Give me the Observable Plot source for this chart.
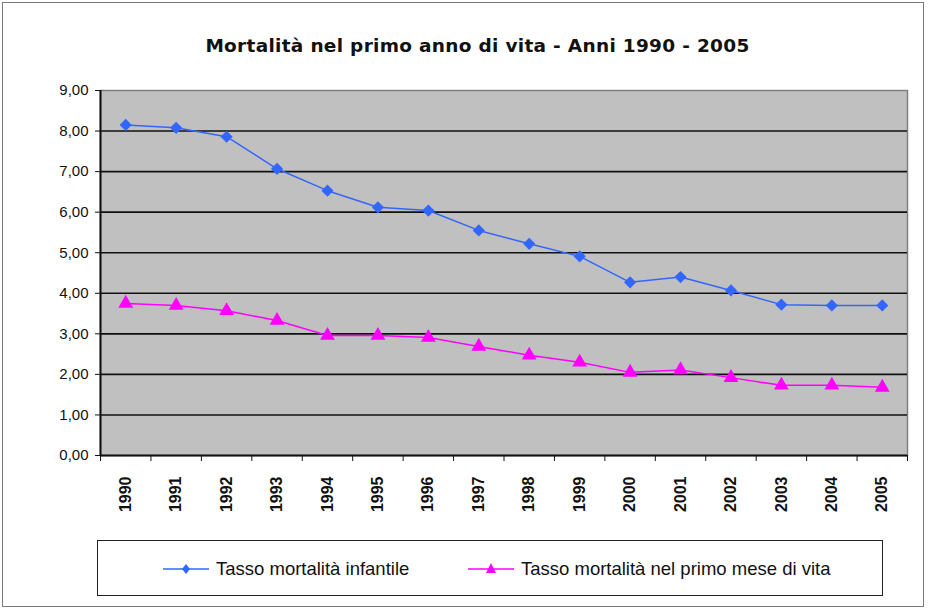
<!DOCTYPE html>
<html><head><meta charset="utf-8">
<script src="https://cdn.jsdelivr.net/npm/d3@7"></script>
<script src="https://cdn.jsdelivr.net/npm/@observablehq/plot@0.6"></script>
<style>
body{margin:0;background:#fff;font-family:"Liberation Sans",Arial,sans-serif;}
#wrap{position:relative;width:929px;height:610px;overflow:hidden;background:#fff}
#frame{position:absolute;left:2px;top:2px;width:922px;height:605px;border:1px solid #7a7a7a;box-sizing:border-box}
#title{position:absolute;left:0;width:955px;top:35px;text-align:center;font-family:"DejaVu Sans",sans-serif;font-weight:bold;font-size:18.5px;letter-spacing:0.3px;color:#111}
#chart{position:absolute;left:0;top:0}
#legend{position:absolute;left:97px;top:540px;width:786px;height:56px;border:1px solid #222;box-sizing:border-box;background:#fff}
.item{position:absolute;top:17px;height:22px;display:flex;align-items:center;font-family:"Liberation Sans",Arial,sans-serif;font-size:18.5px;color:#111;white-space:nowrap}
.item svg{margin-right:7px}
</style>
</head><body>
<div id="wrap">
  <div id="frame"></div>
  <div id="chart"></div>
  <div id="title">Mortalità nel primo anno di vita - Anni 1990 - 2005</div>
  <div id="legend"></div>
</div>
<script>
const years = [1990,1991,1992,1993,1994,1995,1996,1997,1998,1999,2000,2001,2002,2003,2004,2005];
const infantile = [8.15,8.08,7.86,7.07,6.53,6.12,6.04,5.55,5.22,4.91,4.27,4.40,4.07,3.72,3.70,3.70];
const primoMese = [3.75,3.70,3.57,3.33,2.96,2.96,2.91,2.69,2.47,2.30,2.05,2.11,1.92,1.73,1.73,1.68];
const yTicks = [0,1,2,3,4,5,6,7,8,9];
const seriesNames = ["Tasso mortalità infantile","Tasso mortalità nel primo mese di vita"];
const seriesColors = ["#3366ff","#ff00ff"];
const seriesSymbols = ["diamond2","triangle"];

const rowsA = years.map((y,i)=>({year:y, v:infantile[i]}));
const rowsB = years.map((y,i)=>({year:y, v:primoMese[i]}));
const bounds = years.map(y=>y-0.5).concat([years[years.length-1]+0.5]);
const fmt = d => d.toFixed(2).replace(".", ",");

const chart = Plot.plot({
  width: 929, height: 610,
  marginLeft: 100, marginRight: 22, marginTop: 90, marginBottom: 155,
  style: {background: "none", fontFamily: "Liberation Sans, Arial, sans-serif", color: "#111"},
  x: {type: "linear", domain: [bounds[0], bounds[bounds.length-1]]},
  y: {domain: [0, 9]},
  marks: [
    Plot.frame({fill: "#c0c0c0", stroke: "#808080", strokeWidth: 1.5}),
    Plot.gridY(yTicks.slice(1, -1), {stroke: "#111", strokeOpacity: 1, strokeWidth: 1.6}),
    Plot.axisY({ticks: yTicks, tickFormat: fmt, tickSize: 5, tickPadding: 7, fontSize: 15, label: null, stroke: "#111"}),
    Plot.axisX({ticks: years, tickSize: 0, tickRotate: -90, tickPadding: 21, fontWeight: "bold", fontSize: 16, label: null, tickFormat: d => String(d)}),
    Plot.axisX({ticks: bounds, tickSize: 6, tickFormat: () => "", label: null, stroke: "#111"}),
    Plot.ruleY([0], {stroke: "#111", strokeWidth: 2}),
    Plot.ruleX([bounds[0]], {stroke: "#111", strokeWidth: 2}),
    Plot.line(rowsA, {x: "year", y: "v", stroke: seriesColors[0], strokeWidth: 1.5}),
    Plot.dot(rowsA, {x: "year", y: "v", symbol: seriesSymbols[0], fill: seriesColors[0], r: 5.5}),
    Plot.line(rowsB, {x: "year", y: "v", stroke: seriesColors[1], strokeWidth: 1.5}),
    Plot.dot(rowsB, {x: "year", y: "v", symbol: seriesSymbols[1], fill: seriesColors[1], r: 5.5})
  ]
});
document.getElementById("chart").appendChild(chart);

const legend = document.getElementById("legend");
const lefts = [65, 370];
seriesNames.forEach((name, i) => {
  const item = document.createElement("div");
  item.className = "item";
  item.style.left = lefts[i] + "px";
  const sym = seriesSymbols[i] === "diamond2"
    ? `<path d="M23,6 L27,11 L23,16 L19,11 Z" fill="${seriesColors[i]}"/>`
    : `<path d="M23,5 L28,15 L18,15 Z" fill="${seriesColors[i]}"/>`;
  item.innerHTML = `<svg width="46" height="22"><line x1="0" y1="11" x2="46" y2="11" stroke="${seriesColors[i]}" stroke-width="1.5"/>${sym}</svg><span>${name}</span>`;
  legend.appendChild(item);
});
</script>
</body></html>
